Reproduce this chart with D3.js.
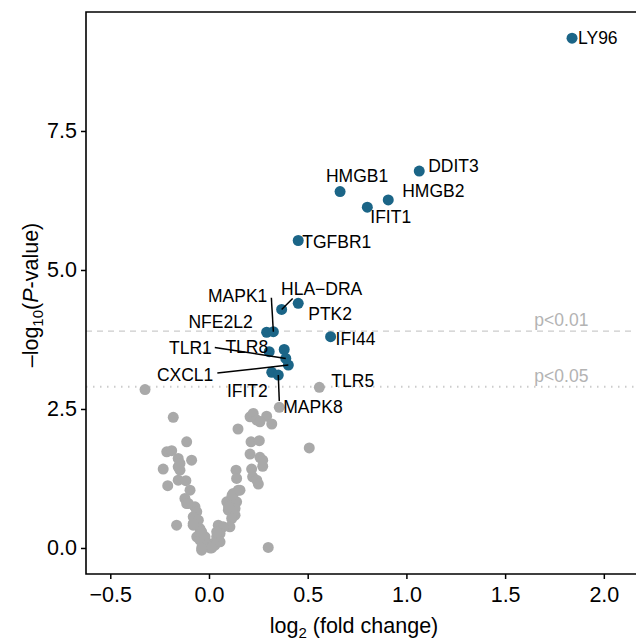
<!DOCTYPE html>
<html lang="en">
  <head>
    <meta charset="utf-8">
    <title>volcano</title>
    <script src="https://cdn.jsdelivr.net/npm/d3@7"></script>
    <style>
      body { margin: 0; background: #fff; }
      text { font-family: "Liberation Sans", Arial, Helvetica, sans-serif; }
    </style>
  </head>
  <body>
    <div id="chart"></div>
  </body>
</html>

<script>

// significant genes
const genes = ["LY96", "DDIT3", "HMGB1", "HMGB2", "IFIT1", "TGFBR1", "PTK2", "HLA\u2212DRA",
  "NFE2L2", "MAPK1", "IFI44", "TLR8", "", "TLR1", "CXCL1", "IFIT2", "MAPK8"];
const geneFC = [1.839, 1.065, 0.664, 0.908, 0.802, 0.452, 0.452, 0.368,
  0.292, 0.326, 0.616, 0.305, 0.381, 0.389, 0.402, 0.318, 0.351];
const geneP = [9.17, 6.78, 6.41, 6.26, 6.13, 5.53, 4.40, 4.29,
  3.88, 3.89, 3.80, 3.53, 3.57, 3.41, 3.29, 3.16, 3.11];

// everything else
const bgFC = [-0.324, 0.559, 0.356, -0.181, 0.208, 0.224, 0.242, 0.292, 0.318, 0.258,
  0.147, -0.113, 0.213, 0.255, 0.508, -0.214, -0.189, -0.156, -0.088, 0.208,
  0.258, 0.272, -0.232, -0.156, -0.147, 0.272, 0.137, 0.140, 0.216, 0.221,
  0.242, 0.250, -0.156, -0.117, -0.209, -0.096, 0.148, 0.123, 0.115, 0.090,
  -0.122, -0.113, 0.140, -0.071, -0.062, 0.132, 0.098, 0.132, -0.080, -0.054,
  0.115, 0.106, -0.164, -0.080, -0.046, 0.047, 0.072, -0.046, -0.020, -0.062,
  0.056, 0.039, -0.046, -0.004, 0.022, 0.056, -0.037, 0.005, 0.030, 0.300,
  -0.147, -0.080, -0.037, 0.014, -0.105, 0.117, 0.157, 0.099, 0.039, -0.037];
const bgP = [2.85, 2.89, 2.53, 2.35, 2.36, 2.42, 2.30, 2.37, 2.23, 2.27,
  2.14, 1.91, 1.91, 1.93, 1.80, 1.73, 1.75, 1.61, 1.58, 1.69,
  1.63, 1.58, 1.42, 1.46, 1.40, 1.47, 1.40, 1.25, 1.42, 1.28,
  1.22, 1.15, 1.22, 1.21, 1.12, 1.04, 1.04, 0.98, 0.89, 0.83,
  0.89, 0.80, 0.83, 0.74, 0.65, 0.71, 0.68, 0.59, 0.56, 0.50,
  0.53, 0.38, 0.41, 0.41, 0.35, 0.41, 0.38, 0.26, 0.20, 0.20,
  0.26, 0.20, 0.14, 0.08, 0.08, 0.11, 0.00, 0.00, 0.05, 0.01,
  1.52, 0.44, 0.29, 0.00, 0.80, 0.95, 1.04, 0.74, 0.29, -0.04];
const bgNames = {1: "TLR5"};

const xTicks = [-0.5, 0, 0.5, 1, 1.5, 2];
const yTicks = [0, 2.5, 5, 7.5];
const cutoffs = [3.9, 2.9];
const cutoffLabels = ["p<0.01", "p<0.05"];

// label placement (pixel offsets from the point), like ggrepel left them
const place = {
  "LY96": {dx: 6, dy: 0, a: "start"},
  "DDIT3": {dx: 9, dy: -5, a: "start"},
  "HMGB1": {dx: 17, dy: -16, a: "middle"},
  "HMGB2": {dx: 14, dy: -9, a: "start"},
  "IFIT1": {dx: 3, dy: 10, a: "start"},
  "TGFBR1": {dx: 4, dy: 1, a: "start"},
  "PTK2": {dx: 10, dy: 10, a: "start"},
  "HLA\u2212DRA": {dx: 40, dy: -21, a: "middle", seg: [11, -11]},
  "NFE2L2": {dx: -14, dy: -11, a: "end"},
  "MAPK1": {dx: -6, dy: -36, a: "end", seg: [-2, -34]},
  "IFI44": {dx: 5, dy: 2, a: "start"},
  "TLR8": {dx: -1, dy: -5, a: "end"},
  "TLR1": {dx: -74, dy: -11, a: "end", seg: [-71, -11]},
  "CXCL1": {dx: -75, dy: 10, a: "end", seg: [-71, 8]},
  "IFIT2": {dx: -4, dy: 18, a: "end"},
  "MAPK8": {dx: 5, dy: 32, a: "start", seg: [1, 26]},
  "TLR5": {dx: 12, dy: -7, a: "start"}
};

const W = 636, H = 641;
const m = {left: 86, right: 636, top: 12, bottom: 574};
const blue = "#1b6587", grey = "#a9a9a9";
const labelSize = "17.5px", axisSize = "21.5px";

const x = d3.scaleLinear().domain([-0.623, 2.163]).range([m.left, m.right]);
const y = d3.scaleLinear().domain([-0.468, 9.64]).range([m.bottom, m.top]);

const svg = d3.select("#chart").append("svg")
  .attr("width", W)
  .attr("height", H);

const sig = genes.map((g, i) => ({name: g, fc: geneFC[i], p: geneP[i]}));
const bg = bgFC.map((v, i) => ({name: bgNames[i] || "", fc: v, p: bgP[i]}));

// threshold lines
svg.selectAll(".cut")
  .data(cutoffs)
  .join("line")
  .attr("x1", m.left).attr("x2", m.right)
  .attr("y1", d => y(d)).attr("y2", d => y(d))
  .style("stroke", "#cccccc")
  .style("stroke-width", (d, i) => i == 0 ? 1.4 : 1.8)
  .style("stroke-dasharray", (d, i) => i == 0 ? "6,5" : "1.5,5.5");

svg.selectAll(".cutlab")
  .data(cutoffs)
  .join("text")
  .attr("x", x(1.785))
  .attr("y", d => y(d) - 5)
  .attr("text-anchor", "middle")
  .style("font-size", labelSize)
  .style("fill", "#b3b3b3")
  .text((d, i) => cutoffLabels[i]);

// points
svg.selectAll(".bg")
  .data(bg)
  .join("circle")
  .attr("cx", d => x(d.fc))
  .attr("cy", d => y(d.p))
  .attr("r", 5.5)
  .style("fill", grey);

svg.selectAll(".sig")
  .data(sig)
  .join("circle")
  .attr("cx", d => x(d.fc))
  .attr("cy", d => y(d.p))
  .attr("r", 5.5)
  .style("fill", blue);

// labels
const labelled = sig.concat(bg).filter(d => d.name && place[d.name]);

svg.selectAll(".seg")
  .data(labelled.filter(d => place[d.name].seg))
  .join("line")
  .attr("x1", d => x(d.fc))
  .attr("y1", d => y(d.p))
  .attr("x2", d => x(d.fc) + place[d.name].seg[0])
  .attr("y2", d => y(d.p) + place[d.name].seg[1])
  .style("stroke", "#000")
  .style("stroke-width", 1.5);

svg.selectAll(".lab")
  .data(labelled)
  .join("text")
  .attr("x", d => x(d.fc) + place[d.name].dx)
  .attr("y", d => y(d.p) + place[d.name].dy)
  .attr("dy", "0.36em")
  .attr("text-anchor", d => place[d.name].a)
  .style("font-size", labelSize)
  .style("fill", "#000")
  .text(d => d.name);

// axes
const xAxis = svg.append("g")
  .attr("transform", `translate(0,${m.bottom})`)
  .call(d3.axisBottom(x).tickValues(xTicks).tickSize(5).tickPadding(8)
    .tickFormat(d => d3.format(".1f")(d).replace("-", "\u2212")));

const yAxis = svg.append("g")
  .attr("transform", `translate(${m.left},0)`)
  .call(d3.axisLeft(y).tickValues(yTicks).tickSize(5).tickPadding(4)
    .tickFormat(d3.format(".1f")));

[xAxis, yAxis].forEach(g => {
  g.select(".domain").remove();
  g.selectAll(".tick line").style("stroke", "#000").style("stroke-width", 1.5);
  g.selectAll(".tick text").style("font-size", axisSize).style("fill", "#000")
    .style("font-family", '"Liberation Sans", Arial, sans-serif');
});

// panel edges: left, bottom, top
svg.append("path")
  .attr("d", `M${m.right},${m.top}H${m.left}V${m.bottom}H${m.right}`)
  .style("fill", "none")
  .style("stroke", "#000")
  .style("stroke-width", 1.6);

// axis titles
const xt = svg.append("text")
  .attr("x", 354)
  .attr("y", 633)
  .attr("text-anchor", "middle")
  .style("font-size", axisSize);
xt.append("tspan").text("log");
xt.append("tspan").attr("dy", 5).style("font-size", "15px").text("2");
xt.append("tspan").attr("dy", -5).text(" (fold change)");

const yt = svg.append("text")
  .attr("transform", `translate(38,${(m.top + m.bottom) / 2 + 2}) rotate(-90)`)
  .attr("text-anchor", "middle")
  .style("font-size", axisSize);
yt.append("tspan").text("\u2013log");
yt.append("tspan").attr("dy", 5).style("font-size", "15px").text("10");
yt.append("tspan").attr("dy", -5).text("(");
yt.append("tspan").style("font-style", "italic").text("P");
yt.append("tspan").text("-value)");

</script>
